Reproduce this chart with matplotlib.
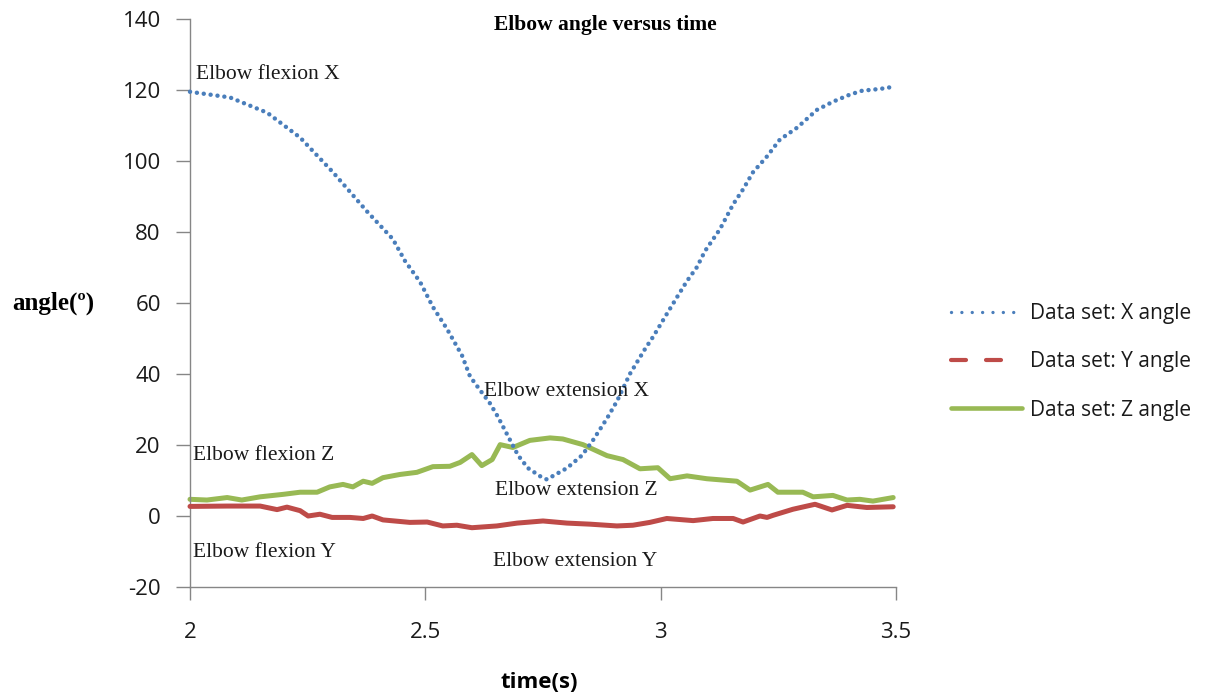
import matplotlib
matplotlib.use("Agg")
import matplotlib.pyplot as plt
from matplotlib.lines import Line2D

plt.rcParams["axes.unicode_minus"] = False

# ---- data ----
t_x = [2.000, 2.085, 2.164, 2.234, 2.304, 2.376, 2.431, 2.457, 2.489, 2.516,
       2.546, 2.578, 2.595, 2.616, 2.637, 2.654, 2.676, 2.697, 2.718, 2.744,
       2.758, 2.801, 2.833, 2.856, 2.886, 2.907, 2.935, 2.967, 2.984, 3.013,
       3.035, 3.056, 3.077, 3.094, 3.126, 3.154, 3.175, 3.196, 3.226, 3.253,
       3.290, 3.332, 3.366, 3.402, 3.428, 3.466, 3.494]
x_angle = [119.5, 117.9, 113.6, 106.6, 96.8, 85.8, 78.0, 71.8, 65.9, 58.9,
           52.7, 45.2, 39.3, 35.5, 31.8, 28.0, 22.4, 17.1, 13.5, 11.2,
           10.3, 13.5, 17.1, 21.3, 27.5, 32.3, 40.1, 47.1, 50.5, 56.9,
           61.7, 66.2, 70.1, 74.6, 80.8, 87.8, 92.0, 96.8, 101.3, 106.0,
           109.4, 114.4, 116.7, 118.7, 119.8, 120.3, 120.9]

t_y = [2.000, 2.079, 2.149, 2.185, 2.206, 2.234, 2.251, 2.276, 2.302, 2.340,
       2.368, 2.387, 2.410, 2.467, 2.504, 2.537, 2.567, 2.599, 2.652, 2.695,
       2.750, 2.801, 2.850, 2.907, 2.941, 2.977, 3.013, 3.069, 3.111, 3.154,
       3.175, 3.211, 3.226, 3.239, 3.281, 3.311, 3.328, 3.364, 3.396, 3.438,
       3.494]
y_angle = [2.7, 2.8, 2.8, 1.8, 2.5, 1.5, 0.0, 0.5, -0.4, -0.4,
           -0.7, 0.0, -1.1, -1.8, -1.7, -2.8, -2.6, -3.3, -2.8, -2.0,
           -1.4, -2.0, -2.3, -2.8, -2.6, -1.8, -0.7, -1.3, -0.7, -0.7,
           -1.7, 0.0, -0.4, 0.2, 1.9, 2.8, 3.3, 1.7, 3.0, 2.4,
           2.6]

t_z = [2.000, 2.036, 2.079, 2.110, 2.149, 2.198, 2.234, 2.270, 2.297, 2.325,
       2.346, 2.368, 2.387, 2.410, 2.446, 2.482, 2.516, 2.552, 2.574, 2.599,
       2.620, 2.642, 2.659, 2.686, 2.722, 2.765, 2.792, 2.835, 2.886, 2.920,
       2.956, 2.994, 3.020, 3.056, 3.098, 3.162, 3.190, 3.228, 3.249, 3.302,
       3.324, 3.366, 3.396, 3.423, 3.451, 3.494]
z_angle = [4.7, 4.5, 5.2, 4.5, 5.4, 6.1, 6.7, 6.7, 8.2, 8.9,
           8.2, 9.8, 9.2, 10.8, 11.7, 12.3, 13.9, 14.0, 15.1, 17.3,
           14.2, 15.9, 20.1, 19.3, 21.3, 22.0, 21.7, 20.1, 17.0, 15.9,
           13.3, 13.6, 10.5, 11.3, 10.5, 9.8, 7.3, 8.9, 6.7, 6.7,
           5.4, 5.8, 4.5, 4.7, 4.2, 5.2]

x_ticks = [2, 2.5, 3, 3.5]
y_ticks = [-20, 0, 20, 40, 60, 80, 100, 120, 140]
series_labels = ["Data set: X angle", "Data set: Y angle", "Data set: Z angle"]

annotations = [
    ("Elbow flexion X", 2.013, 124.5),
    ("Elbow extension X", 2.625, 35.1),
    ("Elbow flexion Z", 2.006, 17.1),
    ("Elbow extension Z", 2.649, 7.3),
    ("Elbow flexion Y", 2.006, -10.4),
    ("Elbow extension Y", 2.644, -12.9),
]

BLUE = "#4A7EBB"
RED = "#BE4B48"
GREEN = "#98B954"
GRAY = "#868686"
TXT = "#1a1a1a"
SANS = "Open Sans"
SERIF = "Liberation Serif"

W, H = 1222, 698
fig = plt.figure(figsize=(W / 100, H / 100), dpi=100)
fig.patch.set_facecolor("white")
L, R, T, B = 190, 896, 19, 587
ax = fig.add_axes([L / W, 1 - B / H, (R - L) / W, (B - T) / H])

ax.plot(t_z, z_angle, color=GREEN, lw=3.6, solid_joinstyle="round",
        solid_capstyle="round", clip_on=False, zorder=2)
ax.plot(t_y, y_angle, color=RED, lw=3.6, solid_joinstyle="round",
        solid_capstyle="round", clip_on=False, zorder=3)
ax.plot(t_x, x_angle, color=BLUE, lw=3.2, linestyle=(0, (0.01, 1.55)),
        dash_capstyle="round", clip_on=False, zorder=4)

ax.set_xlim(2, 3.5)
ax.set_ylim(-20, 140)
ax.set_xticks(x_ticks)
ax.set_xticklabels([f"{v:g}" for v in x_ticks])
ax.set_yticks(y_ticks)

for s in ["top", "right"]:
    ax.spines[s].set_visible(False)
for s in ["left", "bottom"]:
    ax.spines[s].set_color(GRAY)
    ax.spines[s].set_linewidth(1.0)

ax.tick_params(axis="y", direction="out", length=10, width=1, color=GRAY,
               pad=11, labelsize=16, labelcolor=TXT)
ax.tick_params(axis="x", direction="out", length=9, width=1, color=GRAY,
               pad=16, labelsize=16, labelcolor=TXT)
for lab in ax.get_xticklabels() + ax.get_yticklabels():
    lab.set_fontfamily(SANS)

ax.set_title("Elbow angle versus time", fontfamily=SERIF, fontweight="bold",
             fontsize=15.5, x=(605 - L) / (R - L), y=(B - 25) / (B - T),
             va="center", ha="center", pad=0)

ax.set_ylabel("angle(º)", rotation=0, ha="left", va="center",
              fontfamily=SERIF, fontweight="bold", fontsize=18)
ax.yaxis.set_label_coords((12 - L) / (R - L), (B - 303) / (B - T))
ax.set_xlabel("time(s)", ha="center", va="center", fontfamily=SANS,
              fontweight="bold", fontsize=16)
ax.xaxis.set_label_coords((539 - L) / (R - L), (B - 682) / (B - T))

for txt, tx, ty in annotations:
    ax.text(tx, ty, txt, ha="left", va="center", fontfamily=SERIF,
            fontsize=15.5, color=TXT, zorder=5)

handles = [
    Line2D([], [], color=BLUE, lw=2.4, linestyle=(0, (0.01, 3.1)),
           dash_capstyle="round"),
    Line2D([], [], color=RED, lw=3.0, linestyle=(0, (3.6, 4.8, 3.6, 20)),
           dash_capstyle="round"),
    Line2D([], [], color=GREEN, lw=3.3, solid_capstyle="round"),
]
leg = ax.legend(handles, series_labels, loc="center left",
                bbox_to_anchor=(951 / W, 1 - 362 / H),
                bbox_transform=fig.transFigure, frameon=False,
                prop={"family": SANS, "size": 15}, handlelength=3.4,
                handletextpad=0.38, labelspacing=1.3, borderpad=0,
                borderaxespad=0)
for t in leg.get_texts():
    t.set_color(TXT)

fig.savefig("out.png", dpi=100)
